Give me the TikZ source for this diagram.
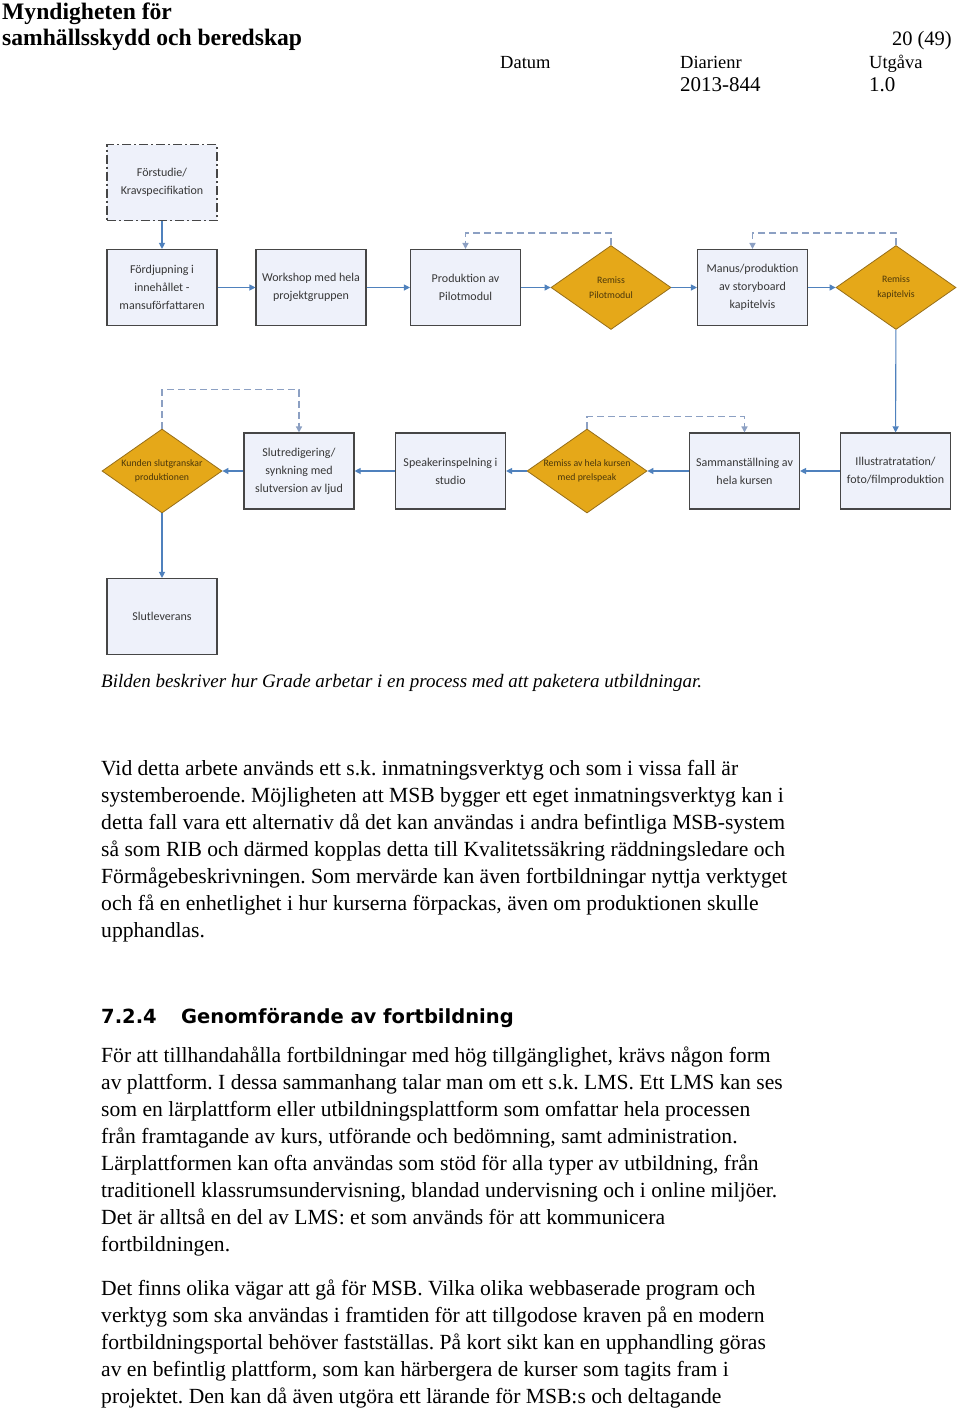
\documentclass[tikz,border=0pt]{standalone}
\usepackage{fontspec}
\setmainfont{Liberation Serif}
\newfontfamily\chartfont{Carlito}
\newfontfamily\headfont{DejaVu Sans}
\usetikzlibrary{shapes.geometric}
\usetikzlibrary{arrows.meta}
\frenchspacing

\definecolor{boxfill}{RGB}{238,241,250}
\definecolor{boxline}{RGB}{70,70,70}
\definecolor{boxtext}{RGB}{55,55,55}
\definecolor{gold}{RGB}{229,168,25}
\definecolor{goldline}{RGB}{150,110,25}
\definecolor{goldtext}{RGB}{75,55,10}
\definecolor{flowblue}{RGB}{79,129,189}
\definecolor{loopgray}{RGB}{140,160,195}

\tikzset{
  box/.style={draw=boxline, line width=1.1pt, fill=boxfill, minimum width=110pt,
    minimum height=76pt, inner sep=2pt, align=center, text=boxtext,
    font=\chartfont\fontsize{12}{18}\selectfont},
  gate/.style={diamond, aspect=1.43, draw=goldline, line width=0.8pt, fill=gold,
    minimum width=120pt, minimum height=84pt, inner sep=-6pt, align=center,
    text=goldtext, font=\chartfont\fontsize{9.8}{14.5}\selectfont},
  flow/.style={draw=flowblue, line width=1.1pt, -{Triangle[length=6pt,width=6pt]}},
  recheck/.style={draw=loopgray, line width=1.6pt, dash pattern=on 7pt off 4pt,
    -{Triangle[length=6pt,width=6pt]}},
  body/.style={anchor=base west, inner sep=0pt, font=\fontsize{21.6}{27}\selectfont},
  meta/.style={anchor=base west, inner sep=0pt, font=\fontsize{18.5}{20}\selectfont}
}

\begin{document}
\begin{tikzpicture}[x=1pt,y=-1pt]
    \useasboundingbox[fill=white] (0,0) rectangle (960,1409);

    % page head
    \node[anchor=base west, inner sep=0pt, font=\bfseries\fontsize{23.6}{24}\selectfont] (org1) at (2,19) {Myndigheten för};
    \node[anchor=base west, inner sep=0pt, font=\bfseries\fontsize{23.6}{24}\selectfont] (org2) at (2,45) {samhällsskydd och beredskap};
    \node[anchor=base east, inner sep=0pt, font=\fontsize{20.5}{20}\selectfont] (page) at (952,45) {20 (49)};
    \node[meta] (datum) at (500,68) {Datum};
    \node[meta] (diar) at (680,68) {Diarienr};
    \node[meta] (utg) at (869,68) {Utgåva};
    \node[meta, font=\fontsize{21}{20}\selectfont] (diarnr) at (680,91) {2013-844};
    \node[meta, font=\fontsize{21}{20}\selectfont] (utgnr) at (869,91) {1.0};

    % first row
    \node[box, dash pattern=on 9pt off 3pt on 2pt off 3pt] (pre) at (162,182.5) {Förstudie/\\Kravspecifikation};
    \node[box] (deep) at (162,287.5) {Fördjupning i\\innehållet -\\mansuförfattaren};
    \node[box] (work) at (311,287.5) {Workshop med hela\\projektgruppen};
    \node[box] (pilot) at (465.5,287.5) {Produktion av\\Pilotmodul};
    \node[gate] (rp) at (611,287.5) {Remiss\\Pilotmodul};
    \node[box] (manus) at (752.5,287.5) {Manus/produktion\\av storyboard\\kapitelvis};
    \node[gate] (rk) at (896,287.5) {Remiss\\kapitelvis};

    % second row
    \node[box] (illu) at (895.5,471) {Illustratratation/\\foto/filmproduktion};
    \node[box] (samm) at (744.5,471) {Sammanställning av\\hela kursen};
    \node[gate] (rh) at (587,471) {Remiss av hela kursen\\med prelspeak};
    \node[box] (speak) at (450.5,471) {Speakerinspelning i\\studio};
    \node[box] (slut) at (299,471) {Slutredigering/\\synkning med\\slutversion av ljud};
    \node[gate] (kund) at (162,471) {Kunden slutgranskar\\produktionen};
    \node[box] (lev) at (162,616.5) {Slutleverans};

    \draw[flow] (pre) -- (deep);
    \draw[flow] (deep) -- (work);
    \draw[flow] (work) -- (pilot);
    \draw[flow] (pilot) -- (rp);
    \draw[flow] (rp) -- (manus);
    \draw[flow] (manus) -- (rk);
    \draw[flow] (rk) -- (illu);
    \draw[flow] (illu) -- (samm);
    \draw[flow] (samm) -- (rh);
    \draw[flow] (rh) -- (speak);
    \draw[flow] (speak) -- (slut);
    \draw[flow] (slut) -- (kund);
    \draw[flow] (kund) -- (lev);

    % review loops
    \draw[recheck] (rp.north) -- ++(0,-12) -| (pilot.north);
    \draw[recheck] (rk.north) -- ++(0,-12) -| (manus.north);
    \draw[recheck] (rh.north) -- ++(0,-12) -| (samm.north);
    \draw[recheck] (kund.north) -- ++(0,-39) -| (slut.north);

    \node[anchor=base west, inner sep=0pt, font=\itshape\fontsize{19}{20}\selectfont] (caption) at (101,687)
        {Bilden beskriver hur Grade arbetar i en process med att paketera utbildningar.};

    % text
    \foreach \txt [count=\i from 0] in {
        {Vid detta arbete används ett s.k. inmatningsverktyg och som i vissa fall är},
        {systemberoende. Möjligheten att MSB bygger ett eget inmatningsverktyg kan i},
        {detta fall vara ett alternativ då det kan användas i andra befintliga MSB-system},
        {så som RIB och därmed kopplas detta till Kvalitetssäkring räddningsledare och},
        {Förmågebeskrivningen. Som mervärde kan även fortbildningar nyttja verktyget},
        {och få en enhetlighet i hur kurserna förpackas, även om produktionen skulle},
        {upphandlas.}}
        \node[body] (pa-\i) at (101,775+27*\i) {\txt};

    \node[anchor=base west, inner sep=0pt, font=\headfont\bfseries\fontsize{19.5}{20}\selectfont] (secnr) at (101,1023) {7.2.4};
    \node[anchor=base west, inner sep=0pt, font=\headfont\bfseries\fontsize{19.5}{20}\selectfont] (sec) at (181,1023) {Genomförande av fortbildning};

    \foreach \txt [count=\i from 0] in {
        {För att tillhandahålla fortbildningar med hög tillgänglighet, krävs någon form},
        {av plattform. I dessa sammanhang talar man om ett s.k. LMS. Ett LMS kan ses},
        {som en lärplattform eller utbildningsplattform som omfattar hela processen},
        {från framtagande av kurs, utförande och bedömning, samt administration.},
        {Lärplattformen kan ofta användas som stöd för alla typer av utbildning, från},
        {traditionell klassrumsundervisning, blandad undervisning och i online miljöer.},
        {Det är alltså en del av LMS: et som används för att kommunicera},
        {fortbildningen.}}
        \node[body] (pb-\i) at (101,1062+27*\i) {\txt};

    \foreach \txt [count=\i from 0] in {
        {Det finns olika vägar att gå för MSB. Vilka olika webbaserade program och},
        {verktyg som ska användas i framtiden för att tillgodose kraven på en modern},
        {fortbildningsportal behöver fastställas. På kort sikt kan en upphandling göras},
        {av en befintlig plattform, som kan härbergera de kurser som tagits fram i},
        {projektet. Den kan då även utgöra ett lärande för MSB:s och deltagande}}
        \node[body] (pc-\i) at (101,1295+27*\i) {\txt};
\end{tikzpicture}
\end{document}
